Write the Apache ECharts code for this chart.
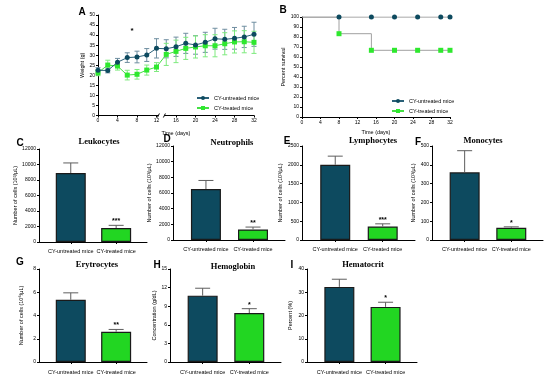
<!DOCTYPE html>
<html><head><meta charset="utf-8">
<script src="https://cdn.jsdelivr.net/npm/echarts@6/dist/echarts.min.js"></script>
<style>html,body{margin:0;padding:0;background:#fff}#c{width:550px;height:381px}</style>
</head><body><div id="c"></div>
<script>
// ---------- data ----------
const categories = ['CY-untreated mice', 'CY-treated mice'];
const days = [0,2,4,6,8,10,12,14,16,18,20,22,24,26,28,30,32];
const weightUntreated   = [22.5,22.4,26.5,28.8,29.1,30.1,33.4,33.2,34.2,35.9,35.1,36.4,38.2,37.9,38.4,39.1,40.4];
const weightUntreatedSD = [1.3,1.2,1.9,2.4,2.9,3.2,4.8,4.5,4.8,5.0,4.6,5.0,5.2,5.0,5.4,5.3,6.0];
const weightTreated     = [21.3,25.1,24.6,20.1,20.5,22.6,24.1,30.4,31.9,33.4,34.1,34.7,34.7,35.7,36.6,36.7,36.4];
const weightTreatedSD   = [1.5,2.4,2.0,2.4,2.4,2.5,2.2,5.5,5.6,5.5,5.5,5.5,5.5,5.5,5.5,5.5,5.5];
const survivalDays      = [0,8,15,20,25,30,32];
const survivalUntreated = [100,100,100,100,100,100,100];
const survivalTreated   = [100,83.3,66.7,66.7,66.7,66.7,66.7];
const leukocytes = [8900,1800],  leukocytesErr = [1300,350];
const neutrophils = [6500,1350], neutrophilsErr = [1100,300];
const lymphocytes = [2000,360],  lymphocytesErr = [230,70];
const monocytes = [360,65],      monocytesErr = [115,5];
const erytrocytes = [5.35,2.6],  erytrocytesErr = [0.6,0.2];
const hemoglobin = [10.7,7.9],   hemoglobinErr = [1.2,0.7];
const hematocrit = [32.3,23.7],  hematocritErr = [3.3,2.0];
const significance = ['***','**','***','*','**','*','*'];

// ---------- styles ----------
const DARK = '#0d4a5f', GREEN = '#22d622';
const SANS = 'Liberation Sans', SERIF = 'Liberation Serif';
const axisLine = {show:true, onZero:false, lineStyle:{color:'#000', width:1}};
const axisTick = {show:true, length:2, lineStyle:{color:'#000', width:1}};

const chart = echarts.init(document.getElementById('c'));

const grids = [], xAxes = [], yAxes = [], series = [], graphics = [];

function errRender(color, capHalf, upperOnly, sig) {
  return function (params, api) {
    const x = api.value(0), m = api.value(1), e = api.value(2);
    const pTop = api.coord([x, m + e]);
    const pBot = upperOnly ? api.coord([x, m]) : api.coord([x, m - e]);
    const st = {stroke: color, lineWidth: 1};
    const ch = [
      {type:'line', shape:{x1:pTop[0], y1:pTop[1], x2:pBot[0], y2:pBot[1]}, style:st},
      {type:'line', shape:{x1:pTop[0]-capHalf, y1:pTop[1], x2:pTop[0]+capHalf, y2:pTop[1]}, style:st}
    ];
    if (!upperOnly) ch.push({type:'line', shape:{x1:pBot[0]-capHalf, y1:pBot[1], x2:pBot[0]+capHalf, y2:pBot[1]}, style:st});
    if (sig && params.dataIndex === 1) ch.push({type:'text', style:{text:sig, x:pTop[0], y:pTop[1]-0.5, align:'center', verticalAlign:'bottom', fontSize:7, fontWeight:'bold', fontFamily:SANS, fill:'#000'}});
    return {type:'group', children: ch};
  };
}

// ---------- Panel A ----------
grids.push({left:98, top:15, width:156, height:100.5});
xAxes.push({gridIndex:0, type:'value', min:0, max:32, interval:4, name:'Time (days)', nameLocation:'middle', nameGap:15,
  nameTextStyle:{fontSize:5.5, fontFamily:SANS, color:'#000'}, axisLine, axisTick,
  axisLabel:{fontSize:5, fontFamily:SANS, color:'#000', margin:3}, splitLine:{show:false}});
yAxes.push({gridIndex:0, type:'value', min:0, max:50, interval:5, name:'Weight (g)', nameLocation:'middle', nameGap:13,
  nameTextStyle:{fontSize:5.5, fontFamily:SANS, color:'#000'}, axisLine, axisTick,
  axisLabel:{fontSize:5, fontFamily:SANS, color:'#000', margin:3}, splitLine:{show:false}});
series.push({type:'custom', name:'errU', xAxisIndex:0, yAxisIndex:0, renderItem: errRender('#6f8ea0', 2.5, false),
  data: days.map((d,i)=>[d, weightUntreated[i], weightUntreatedSD[i]]), z:2, silent:true});
series.push({type:'custom', name:'errT', xAxisIndex:0, yAxisIndex:0, renderItem: errRender('#7eea7e', 2.5, false),
  data: days.map((d,i)=>[d, weightTreated[i], weightTreatedSD[i]]), z:2, silent:true});
series.push({type:'line', name:categories[0], xAxisIndex:0, yAxisIndex:0, data: days.map((d,i)=>[d, weightUntreated[i]]),
  symbol:'circle', symbolSize:5, lineStyle:{color:'#2a6078', width:1}, itemStyle:{color:DARK}, z:4});
series.push({type:'line', name:categories[1], xAxisIndex:0, yAxisIndex:0, data: days.map((d,i)=>[d, weightTreated[i]]),
  symbol:'rect', symbolSize:5, lineStyle:{color:'#44e044', width:1}, itemStyle:{color:'#2ee82e'}, z:3});
// axis break mark at 13 days
series.push({type:'custom', name:'break', xAxisIndex:0, yAxisIndex:0, data:[[13,0]], silent:true, clip:false, z:5,
  renderItem:function(p, api){ const c = api.coord([api.value(0), api.value(1)]);
    return {type:'group', children:[
      {type:'rect', shape:{x:c[0]-3, y:c[1]-2, width:6, height:4}, style:{fill:'#fff'}},
      {type:'line', shape:{x1:c[0]-4, y1:c[1]+2, x2:c[0]-2, y2:c[1]-2}, style:{stroke:'#000', lineWidth:1}},
      {type:'line', shape:{x1:c[0]+2, y1:c[1]+2, x2:c[0]+4, y2:c[1]-2}, style:{stroke:'#000', lineWidth:1}}
    ]}; }});

// ---------- Panel B ----------
grids.push({left:302, top:17, width:148, height:100});
xAxes.push({gridIndex:1, type:'value', min:0, max:32, interval:4, name:'Time (days)', nameLocation:'middle', nameGap:12,
  nameTextStyle:{fontSize:5.5, fontFamily:SANS, color:'#000'}, axisLine, axisTick,
  axisLabel:{fontSize:5, fontFamily:SANS, color:'#000', margin:3}, splitLine:{show:false}});
yAxes.push({gridIndex:1, type:'value', min:0, max:100, interval:10, name:'Percent survival', nameLocation:'middle', nameGap:13,
  nameTextStyle:{fontSize:5.5, fontFamily:SANS, color:'#000'}, axisLine, axisTick,
  axisLabel:{fontSize:5, fontFamily:SANS, color:'#000', margin:3}, splitLine:{show:false}});
series.push({type:'line', name:categories[0], xAxisIndex:1, yAxisIndex:1, step:'end',
  data: survivalDays.map((d,i)=> i===0 ? {value:[d, survivalUntreated[i]], symbol:'none'} : [d, survivalUntreated[i]]),
  symbol:'circle', symbolSize:5, lineStyle:{color:'#8c8c8c', width:1}, itemStyle:{color:DARK}, z:4});
series.push({type:'line', name:categories[1], xAxisIndex:1, yAxisIndex:1, step:'end',
  data: survivalDays.map((d,i)=> i===0 ? {value:[d, survivalTreated[i]], symbol:'none'} : [d, survivalTreated[i]]),
  symbol:'rect', symbolSize:5, lineStyle:{color:'#a0a0a0', width:1}, itemStyle:{color:'#2ee82e'}, z:3});

// ---------- Bar panels ----------
const barPanels = [
  {letter:'C', title:'Leukocytes', vals:leukocytes, err:leukocytesErr, max:12000, interval:2000, yName:'Number of cells (10³/μL)',
   grid:{left:39, top:149, width:108, height:93}, nameGap:20, L:[20,143], T:[99,142], labelGap:6},
  {letter:'D', title:'Neutrophils', vals:neutrophils, err:neutrophilsErr, max:12000, interval:2000, yName:'Number of cells (10³/μL)',
   grid:{left:173, top:146, width:112, height:94}, nameGap:16, L:[167,139], T:[232,143], labelGap:6},
  {letter:'E', title:'Lymphocytes', vals:lymphocytes, err:lymphocytesErr, max:2500, interval:500, yName:'Number of cells (10³/μL)',
   grid:{left:302, top:146, width:113, height:94}, nameGap:12, L:[287,141], T:[373,141], labelGap:6},
  {letter:'F', title:'Monocytes', vals:monocytes, err:monocytesErr, max:500, interval:100, yName:'Number of cells (10³/μL)',
   grid:{left:432, top:146, width:111, height:94}, nameGap:10, L:[418,142], T:[483,141], labelGap:6},
  {letter:'G', title:'Erytrocytes', vals:erytrocytes, err:erytrocytesErr, max:8, interval:2, yName:'Number of cells (10⁶/μL)',
   grid:{left:39, top:269, width:108, height:93}, nameGap:15, L:[20,262], T:[97,265], labelGap:7},
  {letter:'H', title:'Hemoglobin', vals:hemoglobin, err:hemoglobinErr, max:15, interval:3, yName:'Concentration (g/dL)',
   grid:{left:170, top:269, width:111, height:93}, nameGap:8, L:[157,265], T:[233,267], labelGap:7},
  {letter:'I', title:'Hematocrit', vals:hematocrit, err:hematocritErr, max:40, interval:10, yName:'Percent (%)',
   grid:{left:307, top:269, width:110, height:93}, nameGap:14, L:[292,265], T:[363,265], labelGap:7}
];
const barColors = [DARK, GREEN];

barPanels.forEach((p, k) => {
  const gi = k + 2;
  grids.push(p.grid);
  const lo = -0.7, hi = 1.68;
  xAxes.push({gridIndex:gi, type:'value', min:lo, max:hi, axisLine,
    axisTick:Object.assign({}, axisTick, {customValues:[0,1]}),
    axisLabel:{customValues:[0,1], fontSize:5.5, fontFamily:SANS, color:'#000', margin:p.labelGap,
      formatter: v => (Number.isInteger(v) && categories[v]) ? categories[v] : ''},
    splitLine:{show:false}});
  yAxes.push({gridIndex:gi, type:'value', min:0, max:p.max, interval:p.interval, name:p.yName, nameLocation:'middle', nameGap:p.nameGap,
    nameTextStyle:{fontSize:5.5, fontFamily:SANS, color:'#000'}, axisLine, axisTick,
    axisLabel:{fontSize:5, fontFamily:SANS, color:'#000', margin:3, formatter: v => String(v)}, splitLine:{show:false}});
  series.push({type:'bar', name:'bar'+k, xAxisIndex:gi, yAxisIndex:gi, barWidth:30,
    data: categories.map((c,i)=>({value:[i, p.vals[i]], itemStyle:{color:barColors[i], borderColor:'#1a1a1a', borderWidth:1.2}})), z:2});
  series.push({type:'custom', name:'err'+k, xAxisIndex:gi, yAxisIndex:gi, renderItem: errRender('#5e5e5e', 7.5, true, significance[k]),
    data: categories.map((c,i)=>[i, p.vals[i], p.err[i]]), z:3, silent:true, clip:false});
  graphics.push({type:'text', x:p.L[0], y:p.L[1], style:{text:p.letter, fontSize:10, fontWeight:'bold', fontFamily:SANS, fill:'#000', align:'center', verticalAlign:'middle'}});
  graphics.push({type:'text', x:p.T[0], y:p.T[1], style:{text:p.title, fontSize:8.5, fontWeight:'bold', fontFamily:SERIF, fill:'#000', align:'center', verticalAlign:'middle'}});
});

graphics.push({type:'text', x:82, y:12, style:{text:'A', fontSize:10, fontWeight:'bold', fontFamily:SANS, fill:'#000', align:'center', verticalAlign:'middle'}});
graphics.push({type:'text', x:283, y:10, style:{text:'B', fontSize:10, fontWeight:'bold', fontFamily:SANS, fill:'#000', align:'center', verticalAlign:'middle'}});
graphics.push({type:'text', x:132, y:31, style:{text:'*', fontSize:8, fontWeight:'bold', fontFamily:SANS, fill:'#000', align:'center', verticalAlign:'middle'}});

const legendBase = {orient:'vertical', itemWidth:12, itemHeight:5, itemGap:4, data:categories, selectedMode:false,
  textStyle:{fontSize:5.5, fontFamily:SANS, color:'#000'}};

chart.setOption({
  animation:false,
  backgroundColor:'#fff',
  grid: grids, xAxis: xAxes, yAxis: yAxes, series: series, graphic: graphics,
  legend: [Object.assign({}, legendBase, {left:191, top:90}), Object.assign({}, legendBase, {left:386, top:93})]
});
</script></body></html>
